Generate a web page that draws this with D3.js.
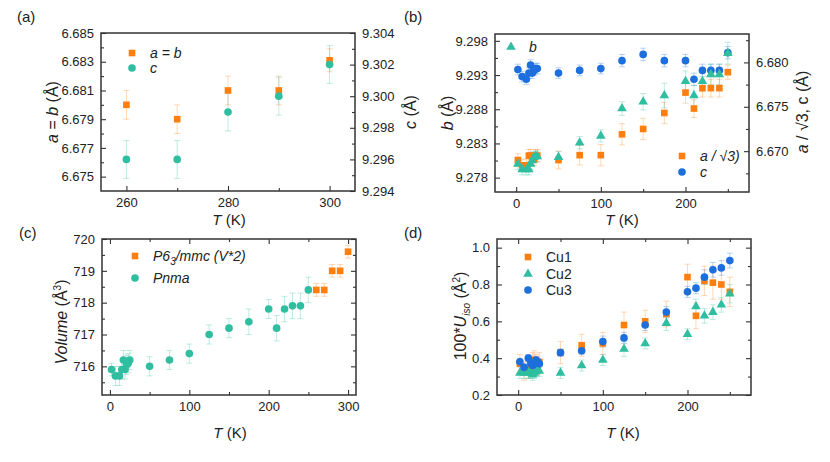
<!DOCTYPE html>
<html><head><meta charset="utf-8">
<script src="https://cdn.jsdelivr.net/npm/d3@7"></script>
<style>body{margin:0;background:#fff}svg{display:block}text{font-family:"Liberation Sans",Arial,sans-serif;fill:#222}</style>
</head><body>
<svg id="c" width="830" height="462"></svg>
<script>
// ---------- data ----------
// panel (a): hexagonal phase
const tHex = [260, 270, 280, 290, 300];
const aHex = [6.6800, 6.6790, 6.6810, 6.6810, 6.6831];
const aHexErr = [0.0010, 0.0010, 0.0010, 0.0010, 0.0008];
const cHex = [9.2960, 9.2960, 9.2990, 9.3000, 9.3020];
const cHexErr = [0.0012, 0.0012, 0.0012, 0.0012, 0.0012];
// Pnma temperatures
const tPnma = [2, 7, 12, 15, 17, 19, 21, 23, 25, 50, 75, 100, 125, 150, 175, 200, 210, 220, 230, 240, 250];
// panel (b)
const bPnma = [9.2800, 9.2792, 9.2792, 9.2792, 9.2800, 9.2805, 9.2810, 9.2811, 9.2811, 9.2810, 9.2831, 9.2841, 9.2881, 9.2891, 9.2900, 9.2921, 9.2900, 9.2921, 9.2931, 9.2931, 9.2962];
const bPnmaErr = [0.0008, 0.0008, 0.0008, 0.0008, 0.0008, 0.0008, 0.0008, 0.0008, 0.0008, 0.0008, 0.0009, 0.0009, 0.0010, 0.0012, 0.0018, 0.0015, 0.0015, 0.0015, 0.0015, 0.0015, 0.0016];
const aRoot3 = [6.6690, 6.6684, 6.6684, 6.6695, 6.6695, 6.6691, 6.6691, 6.6695, 6.6695, 6.6690, 6.66955, 6.66955, 6.6719, 6.6725, 6.6743, 6.6766, 6.6748, 6.6771, 6.6771, 6.6771, 6.6789];
const aRoot3Err = [0.0007, 0.0007, 0.0007, 0.0007, 0.0007, 0.0007, 0.0007, 0.0007, 0.0007, 0.0010, 0.0011, 0.0012, 0.0012, 0.0012, 0.0012, 0.0012, 0.0010, 0.0010, 0.0010, 0.0010, 0.0008];
const cPnma = [6.6792, 6.6784, 6.6781, 6.6788, 6.6797, 6.6788, 6.6791, 6.6793, 6.6793, 6.6788, 6.6791, 6.6793, 6.6802, 6.6809, 6.6802, 6.6802, 6.6781, 6.6791, 6.6791, 6.6791, 6.6811];
const cPnmaErr = [0.0006, 0.0006, 0.0006, 0.0006, 0.0006, 0.0006, 0.0006, 0.0006, 0.0006, 0.0006, 0.0006, 0.0006, 0.0007, 0.0007, 0.0007, 0.0007, 0.0007, 0.0007, 0.0007, 0.0007, 0.0007];
// panel (c)
const volPnma = [715.9, 715.7, 715.7, 715.9, 716.2, 715.9, 716.05, 716.1, 716.2, 716.0, 716.2, 716.4, 717.0, 717.2, 717.4, 717.8, 717.2, 717.8, 717.9, 717.9, 718.4];
const volPnmaErr = [0.2, 0.3, 0.3, 0.3, 0.3, 0.3, 0.3, 0.3, 0.3, 0.3, 0.3, 0.3, 0.3, 0.3, 0.4, 0.3, 0.4, 0.4, 0.4, 0.4, 0.4];
const volHex = [718.4, 718.4, 719.0, 719.0, 719.6];
const volHexErr = [0.2, 0.2, 0.2, 0.2, 0.2];
// panel (d)
const uCu1 = [0.37, 0.33, 0.34, 0.36, 0.38, 0.39, 0.37, 0.36, 0.38, 0.43, 0.47, 0.48, 0.58, 0.60, 0.64, 0.84, 0.63, 0.82, 0.81, 0.80, 0.76];
const uCu1Err = [0.05, 0.05, 0.05, 0.05, 0.05, 0.05, 0.05, 0.05, 0.05, 0.06, 0.06, 0.06, 0.07, 0.06, 0.07, 0.07, 0.07, 0.08, 0.09, 0.08, 0.08];
const uCu2 = [0.32, 0.32, 0.32, 0.32, 0.31, 0.32, 0.33, 0.34, 0.33, 0.32, 0.36, 0.39, 0.45, 0.48, 0.59, 0.53, 0.68, 0.63, 0.65, 0.69, 0.75];
const uCu2Err = [0.03, 0.03, 0.03, 0.03, 0.03, 0.03, 0.03, 0.03, 0.03, 0.03, 0.03, 0.03, 0.04, 0.03, 0.04, 0.03, 0.04, 0.04, 0.04, 0.04, 0.05];
const uCu3 = [0.38, 0.35, 0.40, 0.37, 0.36, 0.37, 0.39, 0.38, 0.37, 0.43, 0.44, 0.49, 0.51, 0.58, 0.65, 0.76, 0.78, 0.84, 0.88, 0.89, 0.93];
const uCu3Err = [0.02, 0.02, 0.02, 0.02, 0.02, 0.02, 0.02, 0.02, 0.02, 0.02, 0.02, 0.03, 0.03, 0.03, 0.03, 0.03, 0.03, 0.04, 0.04, 0.04, 0.04];

// ---------- style ----------
const ORANGE = "#ff7f0e", TEAL = "#2fbea0", BLUE = "#1c6fdc";
const svg = d3.select("#c");
const FRAME = "#333";

function range(a, b, s) { const r = []; for (let v = a; v <= b + s * 1e-6; v += s) r.push(+v.toFixed(6)); return r; }

function axis(g, scale, orient, major, minor, fmt, labels, tx, ty) {
  const mk = { left: d3.axisLeft, right: d3.axisRight, bottom: d3.axisBottom, top: d3.axisTop }[orient];
  const gm = g.append("g").attr("transform", `translate(${tx},${ty})`)
    .call(mk(scale).tickValues(minor).tickSize(-3).tickFormat(""));
  const gM = g.append("g").attr("transform", `translate(${tx},${ty})`)
    .call(mk(scale).tickValues(major).tickSize(-5).tickPadding(orient === "bottom" ? 7 : 7)
      .tickFormat(labels ? fmt : ""));
  [gm, gM].forEach(a => {
    a.select(".domain").remove();
    a.selectAll("line").attr("stroke", FRAME).attr("stroke-width", 1.1);
    a.selectAll("text").style("font-size", "13px").attr("fill", "#222");
  });
}

function marker(type, size) {
  const t = { sq: d3.symbolSquare, ci: d3.symbolCircle, tr: d3.symbolTriangle }[type];
  return d3.symbol().type(t).size(size)();
}
const SIZE = { sq: 44, ci: 46, tr: 40 };

function series(g, x, y, ts, vs, es, color, type) {
  const pts = ts.map((t, i) => ({ t, v: vs[i], e: es[i] }));
  const eb = g.append("g").attr("stroke", color).attr("stroke-opacity", 0.3).attr("stroke-width", 1);
  pts.forEach(p => {
    const X = x(p.t), y1 = y(p.v - p.e), y2 = y(p.v + p.e);
    eb.append("line").attr("x1", X).attr("x2", X).attr("y1", y1).attr("y2", y2);
    eb.append("line").attr("x1", X - 3).attr("x2", X + 3).attr("y1", y1).attr("y2", y1);
    eb.append("line").attr("x1", X - 3).attr("x2", X + 3).attr("y1", y2).attr("y2", y2);
  });
  return pts;
}
function marks(g, x, y, pts, color, type) {
  g.append("g").selectAll("path").data(pts).join("path")
    .attr("d", marker(type, SIZE[type]))
    .attr("transform", p => `translate(${x(p.t)},${y(p.v)})`)
    .attr("fill", color);
}
function legendItem(g, x, y, type, color, build) {
  g.append("path").attr("d", marker(type, SIZE[type])).attr("transform", `translate(${x},${y})`).attr("fill", color);
  const t = g.append("text").attr("x", x + 18).attr("y", y + 5).style("font-size", "14px");
  build(t);
}
function frame(g, L, T, W, H) {
  g.append("rect").attr("x", L).attr("y", T).attr("width", W).attr("height", H)
    .attr("fill", "none").attr("stroke", FRAME).attr("stroke-width", 1.5);
}
function vtitle(g, x, y, build) {
  const t = g.append("text").attr("transform", `translate(${x},${y}) rotate(-90)`)
    .attr("text-anchor", "middle").style("font-size", "16px");
  build(t);
}
function tTitle(g, x, y) {
  const t = g.append("text").attr("x", x).attr("y", y).attr("text-anchor", "middle").style("font-size", "15px");
  t.append("tspan").attr("font-style", "italic").text("T");
  t.append("tspan").text(" (K)");
}
function plabel(x, y, s) {
  svg.append("text").attr("x", x).attr("y", y).style("font-size", "15px").text(s);
}

// ---------- panel (a) ----------
{
  const L = 101, T = 33, W = 254, H = 158;
  const g = svg.append("g");
  const x = d3.scaleLinear().domain([255, 305]).range([L, L + W]);
  const yl = d3.scaleLinear().domain([6.674, 6.685]).range([T + H, T]);
  const yr = d3.scaleLinear().domain([9.294, 9.304]).range([T + H, T]);
  axis(g, x, "bottom", [260, 280, 300], [270, 290], d3.format("d"), true, 0, T + H);
  axis(g, yl, "left", range(6.675, 6.685, 0.002), range(6.676, 6.684, 0.002), d3.format(".3f"), true, L, 0);
  axis(g, yr, "right", range(9.294, 9.304, 0.002), range(9.295, 9.303, 0.002), d3.format(".3f"), true, L + W, 0);
  const pA = series(g, x, yl, tHex, aHex, aHexErr, ORANGE);
  const pC = series(g, x, yr, tHex, cHex, cHexErr, TEAL);
  marks(g, x, yl, pA, ORANGE, "sq");
  marks(g, x, yr, pC, TEAL, "ci");
  frame(g, L, T, W, H);
  legendItem(g, 132, 53, "sq", ORANGE, t => t.attr("font-style", "italic").text("a = b"));
  legendItem(g, 132, 68, "ci", TEAL, t => t.attr("font-style", "italic").text("c"));
  vtitle(g, 58, 112, t => { t.append("tspan").attr("font-style", "italic").text("a"); t.append("tspan").text(" = "); t.append("tspan").attr("font-style", "italic").text("b"); t.append("tspan").text(" (Å)"); });
  vtitle(g, 416, 112, t => { t.append("tspan").attr("font-style", "italic").text("c"); t.append("tspan").text(" (Å)"); });
  tTitle(g, 229, 225);
  plabel(17, 22, "(a)");
}

// ---------- panel (b) ----------
{
  const L = 495, T = 34, W = 254, H = 158;
  const g = svg.append("g");
  const x = d3.scaleLinear().domain([-25, 275]).range([L, L + W]);
  const yl = d3.scaleLinear().domain([9.2759, 9.2990]).range([T + H, T]);
  const yr = d3.scaleLinear().domain([6.6654, 6.6832]).range([T + H, T]);
  axis(g, x, "bottom", [0, 100, 200], [50, 150, 250], d3.format("d"), true, 0, T + H);
  axis(g, yl, "left", [9.278, 9.283, 9.288, 9.293, 9.298], [9.2805, 9.2855, 9.2905, 9.2955], d3.format(".3f"), true, L, 0);
  axis(g, yr, "right", [6.670, 6.675, 6.680], [6.6675, 6.6725, 6.6775, 6.6825], d3.format(".3f"), true, L + W, 0);
  const pO = series(g, x, yr, tPnma, aRoot3, aRoot3Err, ORANGE);
  const pB = series(g, x, yr, tPnma, cPnma, cPnmaErr, BLUE);
  const pT = series(g, x, yl, tPnma, bPnma, bPnmaErr, TEAL);
  marks(g, x, yr, pO, ORANGE, "sq");
  marks(g, x, yr, pB, BLUE, "ci");
  marks(g, x, yl, pT, TEAL, "tr");
  frame(g, L, T, W, H);
  legendItem(g, 511, 47, "tr", TEAL, t => t.attr("font-style", "italic").text("b"));
  legendItem(g, 682, 156, "sq", ORANGE, t => t.attr("font-style", "italic").text("a / √3)"));
  legendItem(g, 682, 172, "ci", BLUE, t => t.attr("font-style", "italic").text("c"));
  vtitle(g, 453, 113, t => { t.append("tspan").attr("font-style", "italic").text("b"); t.append("tspan").text(" (Å)"); });
  vtitle(g, 808, 112, t => { t.append("tspan").attr("font-style", "italic").text("a"); t.append("tspan").text(" / √3, c (Å)"); });
  tTitle(g, 622, 225);
  plabel(404, 22, "(b)");
}

// ---------- panel (c) ----------
{
  const L = 102, T = 239, W = 254, H = 156;
  const g = svg.append("g");
  const x = d3.scaleLinear().domain([-10, 310]).range([L, L + W]);
  const y = d3.scaleLinear().domain([715.1, 720]).range([T + H, T]);
  axis(g, x, "bottom", [0, 100, 200, 300], [50, 150, 250], d3.format("d"), true, 0, T + H);
  axis(g, x, "top", [0, 100, 200, 300], [50, 150, 250], d3.format("d"), false, 0, T);
  axis(g, y, "left", [716, 717, 718, 719, 720], [715.5, 716.5, 717.5, 718.5, 719.5], d3.format("d"), true, L, 0);
  axis(g, y, "right", [716, 717, 718, 719, 720], [715.5, 716.5, 717.5, 718.5, 719.5], d3.format("d"), false, L + W, 0);
  const pT = series(g, x, y, tPnma, volPnma, volPnmaErr, TEAL);
  const pO = series(g, x, y, tHex, volHex, volHexErr, ORANGE);
  marks(g, x, y, pT, TEAL, "ci");
  marks(g, x, y, pO, ORANGE, "sq");
  frame(g, L, T, W, H);
  legendItem(g, 135, 256, "sq", ORANGE, t => {
    t.attr("font-style", "italic");
    t.append("tspan").text("P6");
    t.append("tspan").attr("dy", 4).style("font-size", "10px").text("3");
    t.append("tspan").attr("dy", -4).text("/mmc (V*2)");
  });
  legendItem(g, 135, 278, "ci", TEAL, t => t.attr("font-style", "italic").text("Pnma"));
  vtitle(g, 67, 322, t => {
    t.append("tspan").attr("font-style", "italic").text("Volume");
    t.append("tspan").text(" (Å");
    t.append("tspan").attr("dy", -6).style("font-size", "10px").text("3");
    t.append("tspan").attr("dy", 6).text(")");
  });
  tTitle(g, 230, 438);
  plabel(19, 238, "(c)");
}

// ---------- panel (d) ----------
{
  const L = 497, T = 239, W = 254, H = 156;
  const g = svg.append("g");
  const x = d3.scaleLinear().domain([-25, 275]).range([L, L + W]);
  const y = d3.scaleLinear().domain([0.2, 1.047]).range([T + H, T]);
  axis(g, x, "bottom", [0, 100, 200], [50, 150, 250], d3.format("d"), true, 0, T + H);
  axis(g, x, "top", [0, 100, 200], [50, 150, 250], d3.format("d"), false, 0, T);
  axis(g, y, "left", [0.2, 0.4, 0.6, 0.8, 1.0], [0.3, 0.5, 0.7, 0.9], d3.format(".1f"), true, L, 0);
  axis(g, y, "right", [0.2, 0.4, 0.6, 0.8, 1.0], [0.3, 0.5, 0.7, 0.9], d3.format(".1f"), false, L + W, 0);
  const p1 = series(g, x, y, tPnma, uCu1, uCu1Err, ORANGE);
  const p2 = series(g, x, y, tPnma, uCu2, uCu2Err, TEAL);
  const p3 = series(g, x, y, tPnma, uCu3, uCu3Err, BLUE);
  marks(g, x, y, p1, ORANGE, "sq");
  marks(g, x, y, p2, TEAL, "tr");
  marks(g, x, y, p3, BLUE, "ci");
  frame(g, L, T, W, H);
  legendItem(g, 528, 257, "sq", ORANGE, t => t.text("Cu1"));
  legendItem(g, 528, 274, "tr", TEAL, t => t.text("Cu2"));
  legendItem(g, 528, 290, "ci", BLUE, t => t.text("Cu3"));
  vtitle(g, 466, 316, t => {
    t.append("tspan").text("100*");
    t.append("tspan").attr("font-style", "italic").text("U");
    t.append("tspan").attr("dy", 4).attr("font-style", "italic").style("font-size", "10px").text("iso");
    t.append("tspan").attr("dy", -4).text(" (Å");
    t.append("tspan").attr("dy", -6).style("font-size", "10px").text("2");
    t.append("tspan").attr("dy", 6).text(")");
  });
  tTitle(g, 623, 438);
  plabel(404, 238, "(d)");
}
</script>
</body></html>
